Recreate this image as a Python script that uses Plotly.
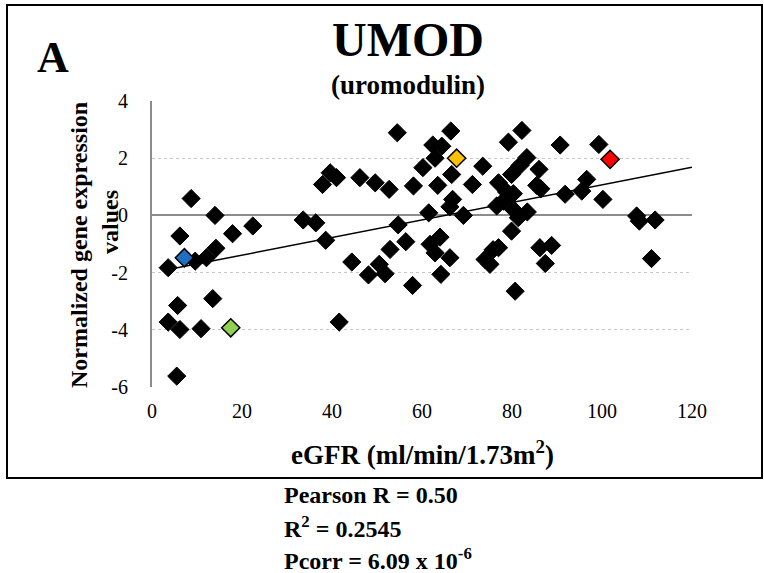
import numpy as np
import plotly.graph_objects as go

# ---- data ----
egfr_black = [3.6, 6.2, 8.7, 9.6, 12.1, 14.2, 14.0, 17.9, 22.4, 5.7, 13.5, 3.6, 6.2, 10.9, 5.5,
              33.6, 36.4, 39.6, 37.9, 38.6, 41.0, 41.6, 44.4, 46.2, 48.1, 49.6,
              50.5, 51.8, 52.7, 52.9, 54.5, 54.7, 56.4, 57.9, 58.1, 60.2, 61.5, 61.8, 62.4, 62.9,
              62.9, 63.5, 64.0, 64.2, 64.4, 66.2, 66.4, 66.6, 66.8, 66.2, 69.2,
              71.2, 73.5, 74.0, 75.1, 75.8, 76.6, 77.0, 77.0, 78.1, 78.8, 79.2, 79.9, 79.9, 80.3,
              80.3, 80.7, 81.4, 81.8, 82.2, 83.3, 83.4, 85.5, 86.0, 86.4, 86.2, 87.4, 88.8,
              90.7, 91.8, 95.5, 96.6, 99.3, 100.2, 107.7, 108.3, 111.8, 111.0]
expr_black = [-1.83, -0.72, 0.59, -1.60, -1.48, -1.15, 0.00, -0.64, -0.37, -3.15, -2.91, -3.73, -3.99, -3.96, -5.62,
              -0.16, -0.26, 1.49, 1.08, -0.87, 1.32, -3.73, -1.63, 1.32, -2.08, 1.14,
              -1.71, -2.04, 0.91, -1.19, 2.89, -0.33, -0.92, -2.45, 1.03, 1.67, 0.09, -1.01, 2.46, 2.00,
              -1.31, 1.05, -0.76, -2.06, 2.42, -1.48, 2.95, 1.43, 0.56, 0.30, 0.00,
              1.08, 1.72, -1.54, -1.71, -1.20, 0.33, 1.14, -1.13, 0.50, 0.82, 2.56, 1.43, -0.55, 0.76,
              0.21, -2.65, -0.08, 1.75, 2.97, 2.02, 0.12, 1.05, 1.61, 0.93, -1.13, -1.68, -1.05,
              2.46, 0.74, 0.85, 1.26, 2.48, 0.56, -0.02, -0.20, -0.16, -1.51]

highlight_egfr = [7.2, 17.5, 67.7, 101.8]
highlight_expr = [-1.48, -3.93, 2.00, 1.96]
highlight_colors = ["#1f6fc5", "#92d050", "#ffc000", "#ff0000"]

x_ticks = [0, 20, 40, 60, 80, 100, 120]
y_ticks = [-6, -4, -2, 0, 2, 4]
y_tick_labels = ["-6", "-4", "-2", "0", "2", "4"]

title_main = "UMOD"
title_sub = "(uromodulin)"
panel_label = "A"
x_title = "eGFR (ml/min/1.73m<sup>2</sup>)"
y_title_lines = ["Normalized gene expression", "values"]
stats_lines = ["Pearson R = 0.50", "R<sup>2</sup> = 0.2545", "Pcorr = 6.09 x 10<sup>-6</sup>"]

# ---- trend line from the data (least squares) ----
all_x = np.array(egfr_black + highlight_egfr)
all_y = np.array(expr_black + highlight_expr)
slope, intercept = np.polyfit(all_x, all_y, 1)
tx = np.array([all_x.min(), x_ticks[-1]])
ty = slope * tx + intercept

FONT = "Liberation Serif, Times New Roman, serif"
W, H = 764, 573
L, R, T, B = 152, 72, 101, 186
pw, ph = W - L - R, H - T - B

def px(x):  # pixel -> paper x
    return (x - L) / pw

def py(y):  # pixel -> paper y
    return (H - B - y) / ph

fig = go.Figure()
fig.add_trace(go.Scatter(x=tx, y=ty, mode="lines", line=dict(color="black", width=1.5),
                         hoverinfo="skip", showlegend=False))
fig.add_trace(go.Scatter(x=egfr_black, y=expr_black, mode="markers",
                         marker=dict(symbol="diamond", size=14, color="black",
                                     line=dict(color="black", width=1)),
                         showlegend=False))
fig.add_trace(go.Scatter(x=highlight_egfr, y=highlight_expr, mode="markers",
                         marker=dict(symbol="diamond", size=14, color=highlight_colors,
                                     line=dict(color="black", width=1.5)),
                         showlegend=False))

fig.update_layout(
    width=W, height=H,
    margin=dict(l=L, r=R, t=T, b=B),
    paper_bgcolor="white", plot_bgcolor="white",
    font=dict(family=FONT, color="black"),
    xaxis=dict(range=[0, 120], tickvals=x_ticks, showgrid=False, zeroline=False,
               showline=False, ticks="", tickfont=dict(size=20, family=FONT),
               ticklabelstandoff=10),
    yaxis=dict(range=[-6, 4], tickvals=y_ticks, ticktext=y_tick_labels, showgrid=True,
               gridcolor="#c8c8c8", griddash="dot", gridwidth=1.2, zeroline=True,
               zerolinecolor="#8c8c8c", zerolinewidth=2, showline=True, linecolor="#8c8c8c",
               linewidth=2, ticks="", tickfont=dict(size=20, family=FONT), ticklabelstandoff=18),
    shapes=[
        dict(type="rect", xref="paper", yref="paper", x0=px(7), x1=px(762), y0=py(478), y1=py(5),
             line=dict(color="black", width=2), fillcolor="rgba(0,0,0,0)", layer="below"),
    ],
    annotations=[
        dict(text=f"<b>{title_main}</b>", xref="paper", yref="paper", x=px(408), y=py(40),
             showarrow=False, font=dict(size=48, family=FONT), xanchor="center", yanchor="middle"),
        dict(text=f"<b>{title_sub}</b>", xref="paper", yref="paper", x=px(408), y=py(85),
             showarrow=False, font=dict(size=27, family=FONT), xanchor="center", yanchor="middle"),
        dict(text=f"<b>{panel_label}</b>", xref="paper", yref="paper", x=px(53), y=py(57),
             showarrow=False, font=dict(size=44, family=FONT), xanchor="center", yanchor="middle"),
        dict(text=f"<b>{y_title_lines[0]}</b>", xref="paper", yref="paper", x=px(79), y=py(245),
             showarrow=False, font=dict(size=24, family=FONT), textangle=-90,
             xanchor="center", yanchor="middle"),
        dict(text=f"<b>{y_title_lines[1]}</b>", xref="paper", yref="paper", x=px(110), y=py(222),
             showarrow=False, font=dict(size=24, family=FONT), textangle=-90,
             xanchor="center", yanchor="middle"),
        dict(text=f"<b>{x_title}</b>", xref="paper", yref="paper", x=px(422), y=py(453),
             showarrow=False, font=dict(size=27, family=FONT), xanchor="center", yanchor="middle"),
    ] + [
        dict(text=f"<b>{s}</b>", xref="paper", yref="paper", x=px(282), y=py(495 + 32 * i),
             showarrow=False, font=dict(size=24, family=FONT), xanchor="left", yanchor="middle")
        for i, s in enumerate(stats_lines)
    ],
)

fig.write_html("out.html", config={"displayModeBar": False},
               post_script="document.body.style.margin='0px';")
